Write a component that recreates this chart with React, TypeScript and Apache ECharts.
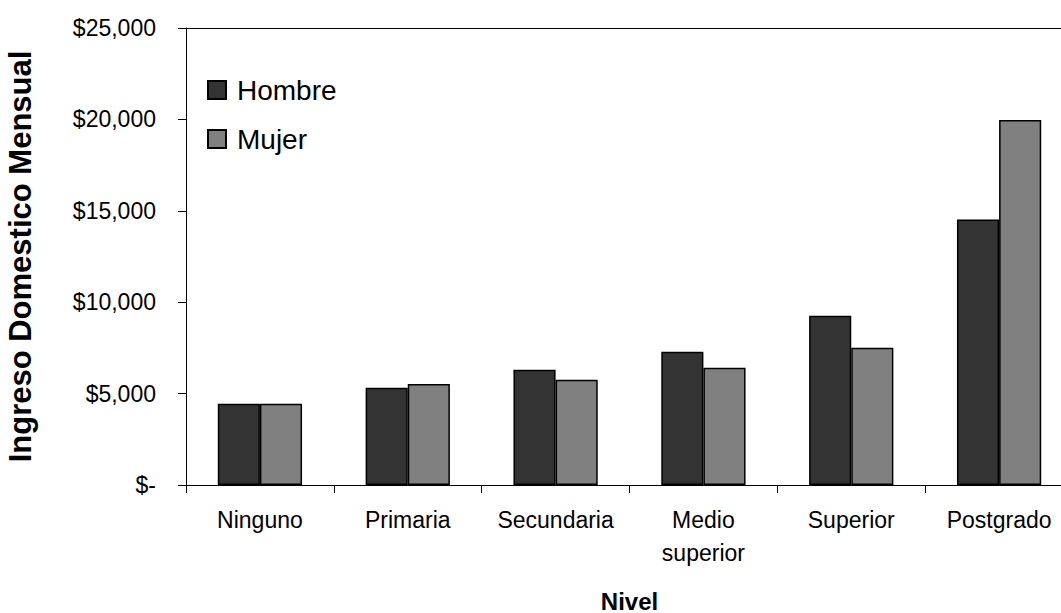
import React, { useEffect, useRef } from "react";
import * as echarts from "echarts";

const categories = ["Ninguno", "Primaria", "Secundaria", "Medio\nsuperior", "Superior", "Postgrado"];
const hombre = [4450, 5320, 6300, 7290, 9260, 14530];
const mujer = [4450, 5520, 5760, 6420, 7510, 19970];
const yTicks = { min: 0, max: 25000, interval: 5000 };
const yTitle = "Ingreso Domestico Mensual";
const xTitle = "Nivel";

const FONT = "'Liberation Sans', Arial, sans-serif";

export default function App() {
  const ref = useRef<HTMLDivElement>(null);
  useEffect(() => {
    if (!ref.current) return;
    const chart = echarts.init(ref.current, undefined, { renderer: "svg" });
    chart.setOption({
      animation: false,
      backgroundColor: "#ffffff",
      textStyle: { fontFamily: FONT, color: "#000" },
      grid: {
        left: 186,
        top: 28,
        right: -12,
        bottom: 128,
        containLabel: false,
        outerBoundsMode: "none",
      },
      legend: {
        orient: "vertical",
        left: 202,
        top: 71,
        itemWidth: 18,
        itemHeight: 18,
        itemGap: 21,
        icon: "rect",
        textStyle: { fontSize: 28, color: "#000", fontFamily: FONT, padding: [0, 0, 0, 6] },
        data: ["Hombre", "Mujer"],
      },
      xAxis: [
        {
          type: "category",
          data: categories,
          position: "bottom",
          axisLine: { lineStyle: { color: "#000", width: 1 } },
          axisTick: { show: true, length: 8, lineStyle: { color: "#000" } },
          axisLabel: { fontSize: 23, color: "#000", fontFamily: FONT, lineHeight: 33, margin: 18, interval: 0 },
          name: xTitle,
          nameLocation: "middle",
          nameGap: 104,
          nameTextStyle: { fontSize: 24, fontWeight: "bold", color: "#000", fontFamily: FONT },
        },
        {
          type: "category",
          data: categories,
          position: "top",
          axisLine: { lineStyle: { color: "#000", width: 1 } },
          axisTick: { show: false },
          axisLabel: { show: false },
        },
      ],
      yAxis: {
        type: "value",
        min: yTicks.min,
        max: yTicks.max,
        interval: yTicks.interval,
        axisLine: { show: true, lineStyle: { color: "#000", width: 1 } },
        axisTick: { show: true, length: 8, lineStyle: { color: "#000" } },
        splitLine: { show: false },
        axisLabel: {
          fontSize: 23,
          color: "#000",
          fontFamily: FONT,
          margin: 30,
          formatter: (v: number) => (v === 0 ? "$-" : "$" + v.toLocaleString("en-US")),
        },
        name: yTitle,
        nameLocation: "middle",
        nameGap: 150,
        nameTextStyle: { fontSize: 31, fontWeight: "bold", color: "#000", fontFamily: FONT },
      },
      series: [
        {
          name: "Hombre",
          type: "bar",
          data: hombre,
          barGap: "0%",
          barCategoryGap: "43%",
          itemStyle: { color: "#333333", borderColor: "#000", borderWidth: 1.5 },
        },
        {
          name: "Mujer",
          type: "bar",
          data: mujer,
          barGap: "0%",
          barCategoryGap: "43%",
          itemStyle: { color: "#808080", borderColor: "#000", borderWidth: 1.5 },
        },
      ],
    });
    return () => chart.dispose();
  }, []);
  return (
    <div
      ref={ref}
      style={{ position: "absolute", left: 0, top: 0, width: 1061, height: 613, overflow: "hidden" }}
    />
  );
}
